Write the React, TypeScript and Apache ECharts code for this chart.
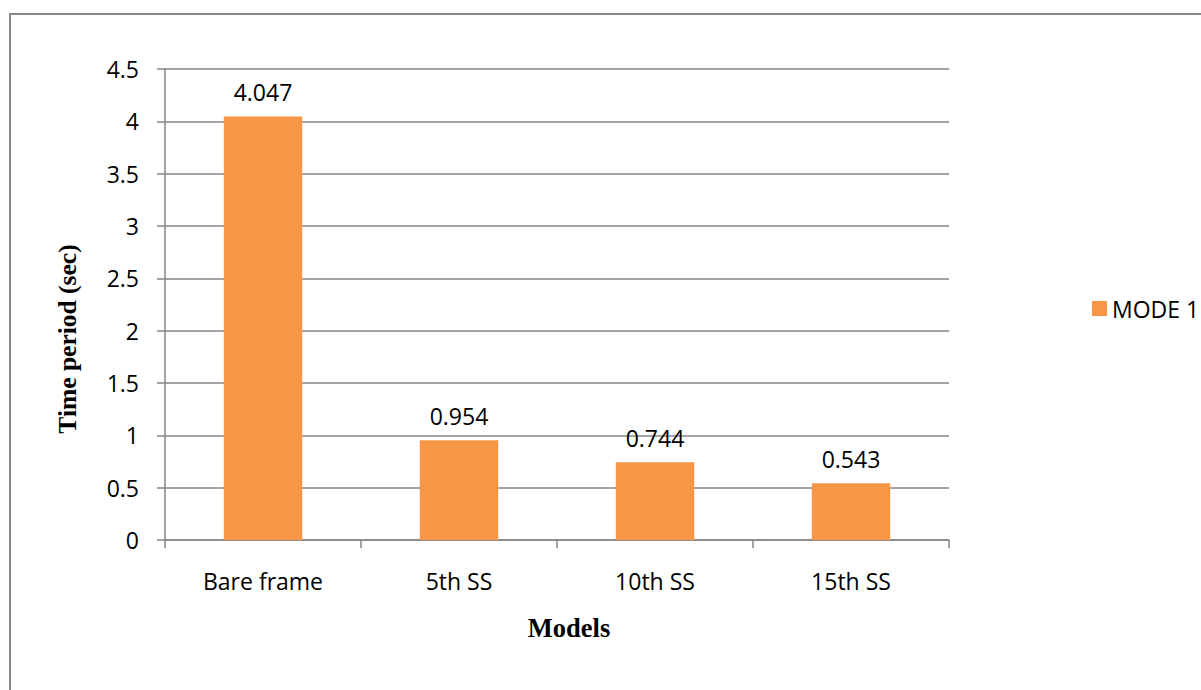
import React, { useEffect, useRef } from "react";
import * as echarts from "echarts";

const categories = ["Bare frame", "5th SS", "10th SS", "15th SS"];
const mode1 = [4.047, 0.954, 0.744, 0.543];
const seriesName = "MODE 1";
const yTitle = "Time period (sec)";
const xTitle = "Models";

const FONT = "'Open Sans', 'Noto Sans', sans-serif";
const SERIF = "'Liberation Serif', 'DejaVu Serif', serif";

export default function App() {
  const ref = useRef<HTMLDivElement>(null);

  useEffect(() => {
    if (!ref.current) return;
    const chart = echarts.init(ref.current, undefined, { renderer: "svg" });
    chart.setOption({
      animation: false,
      backgroundColor: "#ffffff",
      grid: { left: 165, right: 252, top: 69, bottom: 150, containLabel: false },
      legend: {
        data: [seriesName],
        left: 1087,
        top: 292,
        itemWidth: 15,
        itemHeight: 15,
        itemGap: 8,
        icon: "rect",
        textStyle: { fontFamily: FONT, fontSize: 23, color: "#000" },
      },
      xAxis: {
        type: "category",
        data: categories,
        axisLine: { lineStyle: { color: "#868686", width: 1.5 } },
        axisTick: { show: true, length: 8, alignWithLabel: false, lineStyle: { color: "#868686", width: 1.5 } },
        axisLabel: { fontFamily: FONT, fontSize: 23, color: "#000", margin: 29 },
        splitLine: { show: false },
      },
      yAxis: {
        type: "value",
        min: 0,
        max: 4.5,
        interval: 0.5,
        axisLine: { show: true, lineStyle: { color: "#868686", width: 1.5 } },
        axisTick: { show: true, length: 8, lineStyle: { color: "#868686", width: 1.5 } },
        axisLabel: { fontFamily: FONT, fontSize: 23, color: "#000", margin: 26 },
        splitLine: { show: true, lineStyle: { color: "#868686", width: 1.5 } },
      },
      series: [
        {
          name: seriesName,
          type: "bar",
          data: mode1,
          barWidth: "40%",
          itemStyle: { color: "#F79646" },
          label: {
            show: true,
            position: "top",
            distance: 13,
            fontFamily: FONT,
            fontSize: 23,
            color: "#000",
            formatter: (p: any) => String(p.value),
          },
        },
      ],
      graphic: [
        {
          type: "rect",
          shape: { x: 10, y: 14, width: 1200, height: 700 },
          style: { fill: "none", stroke: "#898989", lineWidth: 2 },
          silent: true,
        },
        {
          type: "text",
          x: 67,
          y: 339,
          rotation: Math.PI / 2,
          style: {
            text: yTitle,
            fontFamily: SERIF,
            fontWeight: "bold",
            fontSize: 25.5,
            fill: "#000",
            align: "center",
            verticalAlign: "middle",
          },
        },
        {
          type: "text",
          x: 569,
          y: 628,
          style: {
            text: xTitle,
            fontFamily: SERIF,
            fontWeight: "bold",
            fontSize: 26.5,
            fill: "#000",
            align: "center",
            verticalAlign: "middle",
          },
        },
      ],
    });
    return () => chart.dispose();
  }, []);

  return (
    <div
      ref={ref}
      style={{ position: "fixed", left: 0, top: 0, width: 1201, height: 690 }}
    />
  );
}
